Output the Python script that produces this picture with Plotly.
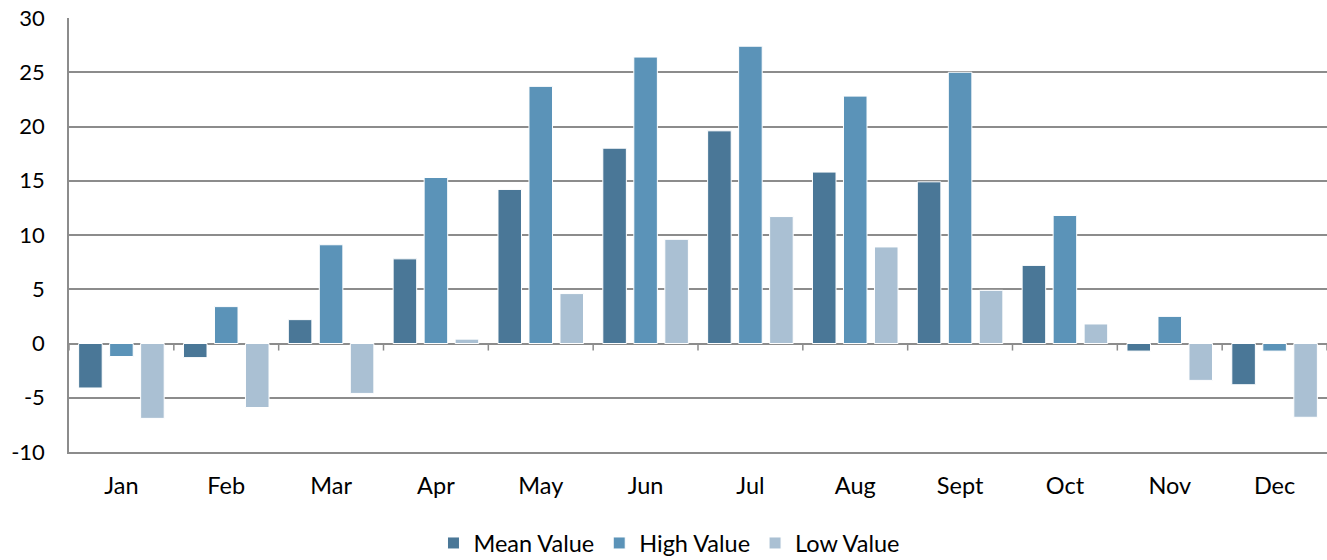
import plotly.graph_objects as go

months = ["Jan", "Feb", "Mar", "Apr", "May", "Jun", "Jul", "Aug", "Sept", "Oct", "Nov", "Dec"]
mean_values = [-4.1, -1.3, 2.2, 7.8, 14.2, 18.0, 19.6, 15.8, 14.9, 7.2, -0.7, -3.8]
high_values = [-1.2, 3.4, 9.1, 15.3, 23.7, 26.4, 27.4, 22.8, 25.0, 11.8, 2.5, -0.7]
low_values = [-6.9, -5.9, -4.6, 0.4, 4.6, 9.6, 11.7, 8.9, 4.9, 1.8, -3.4, -6.8]
y_ticks = [-10, -5, 0, 5, 10, 15, 20, 25, 30]
y_tick_labels = ["-10", "-5", "0", "5", "10", "15", "20", "25", "30"]

series = [
    ("Mean Value", mean_values, "#4A7797"),
    ("High Value", high_values, "#5B93B8"),
    ("Low Value", low_values, "#AAC0D3"),
]

FONT = "Lato, 'Open Sans', sans-serif"
FS = 23.5
FSY = 22
GRID = "#8C8C8C"

fig = go.Figure()
for name, vals, color in series:
    fig.add_trace(go.Bar(
        x=months, y=vals, name=name,
        marker=dict(color=color, line=dict(color="white", width=1)),
    ))

# tick marks on the zero line at category boundaries
shapes = []
for i in range(len(months) + 1):
    shapes.append(dict(type="line", xref="x", yref="y",
                       x0=i - 0.5, x1=i - 0.5, y0=0, y1=-0.65,
                       line=dict(color=GRID, width=1.5), layer="below"))

fig.update_layout(
    width=1327, height=560,
    margin=dict(l=69, r=0, t=18, b=108, autoexpand=False),
    paper_bgcolor="white", plot_bgcolor="white",
    barmode="group", bargap=0.113, bargroupgap=0.24,
    font=dict(family=FONT, size=FS, color="#000000"),
    showlegend=True,
    legend=dict(orientation="h", xref="container", yref="container",
                x=0.5045, xanchor="center", y=0.03, yanchor="middle",
                font=dict(family=FONT, size=FS, color="#000000"), itemwidth=30,
                traceorder="normal"),
    shapes=shapes,
    xaxis=dict(type="category", categoryorder="array", categoryarray=months,
               range=[-0.5, 11.5], showgrid=False, zeroline=False,
               showline=True, linecolor=GRID, linewidth=1.5, automargin=False,
               ticks="", ticklabelstandoff=12, tickfont=dict(family=FONT, size=FS)),
    yaxis=dict(range=[-10, 30], tickvals=y_ticks, ticktext=y_tick_labels,
               showgrid=True, gridcolor=GRID, gridwidth=1.5, automargin=False,
               zeroline=True, zerolinecolor=GRID, zerolinewidth=1.5,
               showline=True, linecolor=GRID, linewidth=1.5,
               ticks="", ticklabelstandoff=18, tickfont=dict(family=FONT, size=FSY)),
)

fig.write_html("out.html", config={"displayModeBar": False},
               post_script="document.body.style.margin='0';document.body.style.overflow='hidden';")
